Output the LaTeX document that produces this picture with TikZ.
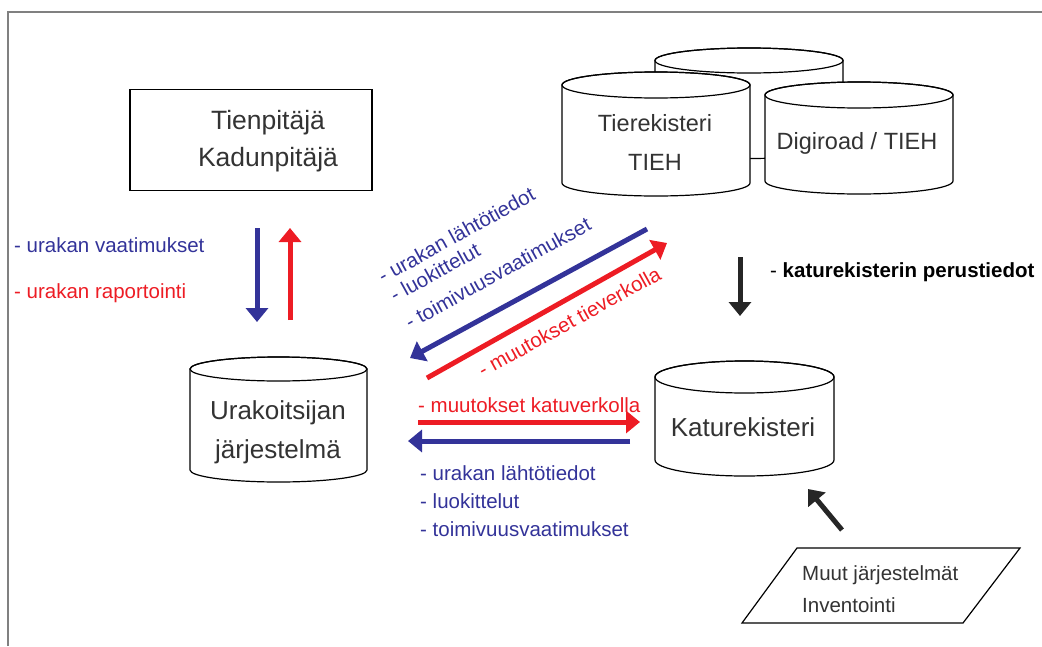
\documentclass[tikz,border=0pt]{standalone}
\usepackage{fontspec}
\setmainfont{Liberation Sans}
\usetikzlibrary{arrows.meta}

\begin{document}
\begin{tikzpicture}[x=1pt,y=-1pt]
    \definecolor{urakblue}{RGB}{51,51,153};
    \definecolor{urakred}{RGB}{237,28,36};
    \definecolor{textgray}{RGB}{51,51,51};
\useasboundingbox (0,0) rectangle (1042,646);
\draw [color=gray,line width=1.5pt] (8,646)--(8,12)--(1042,12);
% rekisterit
\foreach \cx/\ct/\cb/\rx/\ry in {749/60.5/146/94/12.5, 656/85/183/94/13, 859/95/181/94/13, 278.5/369/470/88.5/12, 744.5/377/460/89.5/16} {
    \filldraw [fill=white,line width=1.2pt] (\cx-\rx,\ct) -- (\cx-\rx,\cb) arc [start angle=180,end angle=360,x radius=\rx pt,y radius=\ry pt] -- (\cx+\rx,\ct) arc [start angle=0,end angle=180,x radius=\rx pt,y radius=\ry pt] -- cycle;
    \draw [line width=1.2pt] (\cx,\ct) ellipse [x radius=\rx pt,y radius=\ry pt];
  }
\draw [line width=1.2pt] (797,548)--(1020,548)--(963,623)--(742,623)--cycle;
\node (tienbox) [draw=black,line width=1.2pt,minimum width=242pt,minimum height=101pt] at (251,140) {};
 \tikzstyle{every node}=[font=\fontsize{26.5}{37}\selectfont,text=textgray,align=center];
\node (tienpitaja) at (268,141) {Tienpitäjä\\Kadunpitäjä};
 \tikzstyle{every node}=[font=\fontsize{26}{39}\selectfont,text=textgray,align=center];
\node (urakoitsija) at (278,432) {Urakoitsijan\\järjestelmä};
\node (katurek) at (743,427) {Katurekisteri};
 \tikzstyle{every node}=[font=\fontsize{23.5}{39}\selectfont,text=textgray,align=center];
\node (tierek) at (655,142) {Tierekisteri\\TIEH};
\node (digiroad) at (857,143) {Digiroad / TIEH};
 \tikzstyle{every node}=[font=\fontsize{20.5}{25}\selectfont,anchor=base west,inner sep=0pt];
\node (muut) [text=textgray] at (802,580) {Muut järjestelmät};
\node (inventointi) [text=textgray] at (802,612) {Inventointi};
\node (vaatimukset) [text=urakblue] at (14,252) {- urakan vaatimukset};
\node (raportointi) [text=urakred] at (14,298) {- urakan raportointi};
\node (perustiedot) [text=black] at (770,277) {- \textbf{katurekisterin perustiedot}};
\node (lahto1) [text=urakblue,rotate=29] at (383,284) {- urakan lähtötiedot};
\node (luok1) [text=urakblue,rotate=29] at (395,303) {- luokittelut};
\node (toim1) [text=urakblue,rotate=29] at (410,330) {- toimivuusvaatimukset};
\node (tieverkko) [text=urakred,rotate=29] at (483,378) {- muutokset tieverkolla};
\node (katuverkko) [text=urakred] at (418,412) {- muutokset katuverkolla};
\node (lahto2) [text=urakblue] at (420,480) {- urakan lähtötiedot};
\node (luok2) [text=urakblue] at (420,508) {- luokittelut};
\node (toim2) [text=urakblue] at (420,536) {- toimivuusvaatimukset};
% nuolet
\coordinate (alas1) at (257,228);  \coordinate (alas2) at (257,322);
\coordinate (ylos1) at (290,320);  \coordinate (ylos2) at (290,228);
\coordinate (diag1) at (647,229);  \coordinate (diag2) at (410,358);
\coordinate (diag3) at (427,378);  \coordinate (diag4) at (667,243);
\coordinate (oik1) at (418,422);   \coordinate (oik2) at (640,422);
\coordinate (vas1) at (630,441);   \coordinate (vas2) at (408,441);
\coordinate (perus1) at (740,257); \coordinate (perus2) at (740,316);
\coordinate (muut1) at (842,530);  \coordinate (muut2) at (808,489);
\tikzstyle{flow}=[line width=5pt,-{Triangle[width=22pt,length=14pt]}]
\draw [flow,color=urakblue] (alas1)--(alas2);
\draw [flow,color=urakred] (ylos1)--(ylos2);
\draw [flow,color=urakblue] (diag1)--(diag2);
\draw [flow,color=urakred] (diag3)--(diag4);
\draw [flow,color=urakred] (oik1)--(oik2);
\draw [flow,color=urakblue] (vas1)--(vas2);
\draw [flow,color=black!85] (perus1)--(perus2);
\draw [flow,color=black!85] (muut1)--(muut2);
\end{tikzpicture}
\end{document}
